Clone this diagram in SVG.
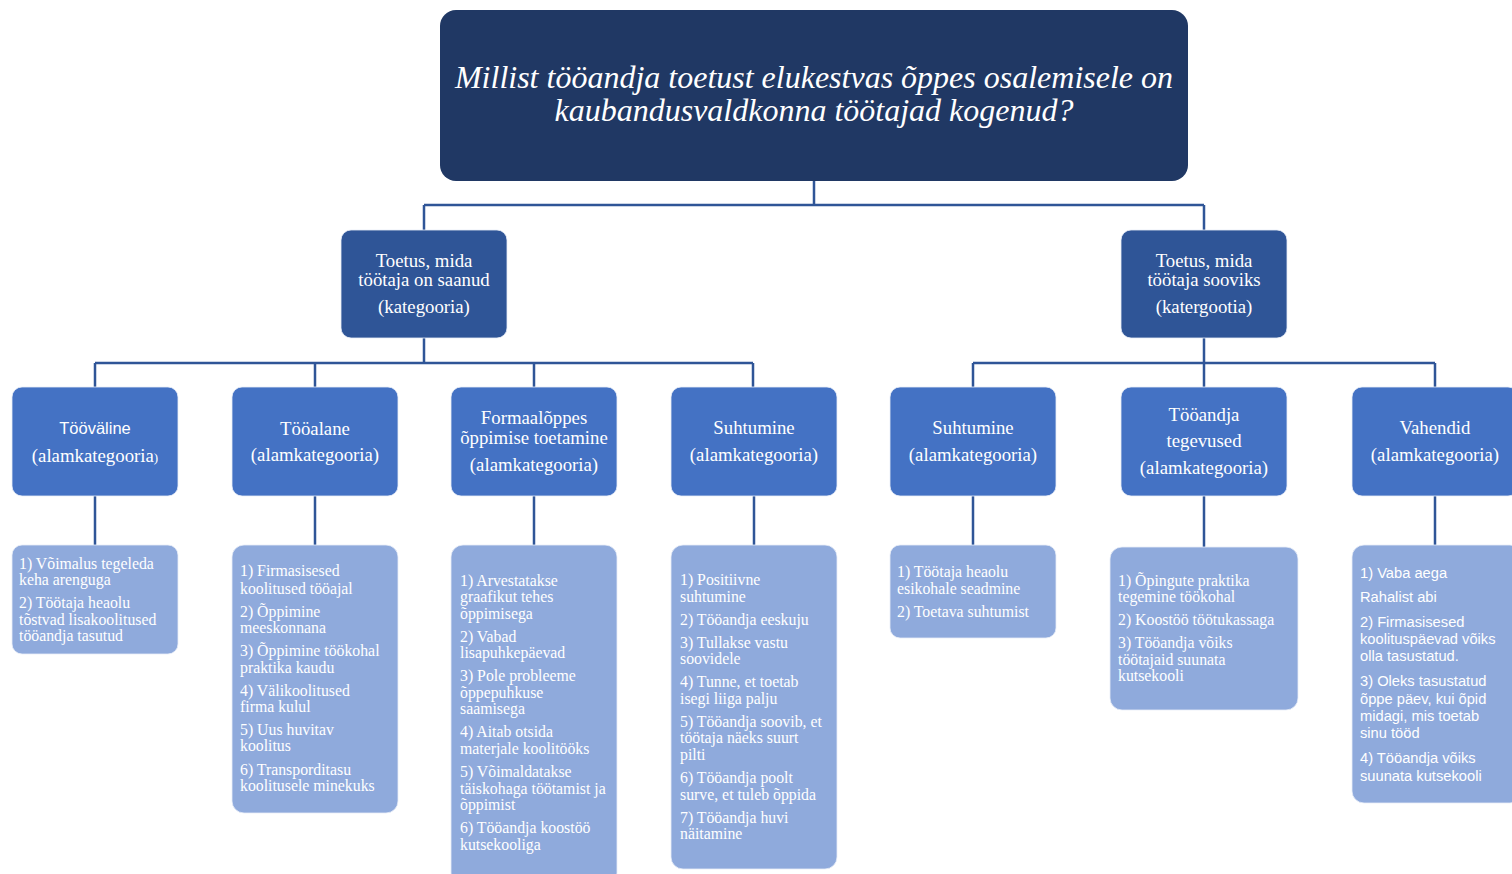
<svg xmlns="http://www.w3.org/2000/svg" width="1512" height="874" viewBox="0 0 1512 874">
<style>
.title{fill:#203864}
.cat{fill:#2f5597;stroke:#e8eef8;stroke-width:0.8}
.mid{fill:#4472c4;stroke:#e8eef8;stroke-width:0.8}
.leaf{fill:#8faadc;stroke:#e8eef8;stroke-width:0.8}
.conn{fill:none;stroke:#2f5597;stroke-width:2.5}
text{fill:#ffffff}
.tt{font-family:"Liberation Serif","Times New Roman",serif;font-style:italic;font-size:32px}
.ct{font-family:"Liberation Serif","Times New Roman",serif;font-size:18.8px}
.mt{font-family:"Liberation Serif","Times New Roman",serif;font-size:18.8px}
.ms{font-family:"Liberation Sans",Arial,sans-serif;font-size:16.5px}
.lt{font-family:"Liberation Serif","Times New Roman",serif;font-size:15.8px}
.ls{font-family:"Liberation Sans",Arial,sans-serif;font-size:14.7px}
</style>
<rect width="1512" height="874" fill="#ffffff"/>
<g id="connectors">
<path class="conn" d="M814 181V205M424 205H1204M424 205V230M1204 205V230"/>
<path class="conn" d="M424 338V363M95 363H753M95 363V387M315 363V387M534 363V387M753 363V387"/>
<path class="conn" d="M1204 338V363M973 363H1435M973 363V387M1204 363V387M1435 363V387"/>
<path class="conn" d="M95 496V545M315 496V545M534 496V545M754 496V545M973 496V545M1204 496V547M1435 496V545"/>
</g>
<g id="title">
<rect class="title" x="440" y="10" width="748" height="171" rx="16"/>
<text class="tt" x="814" y="88" text-anchor="middle">Millist tööandja toetust elukestvas õppes osalemisele on</text>
<text class="tt" x="814" y="121" text-anchor="middle">kaubandusvaldkonna töötajad kogenud?</text>
</g>
<g id="cat1">
<rect class="cat" x="341" y="230" width="166" height="108" rx="10"/>
<text class="ct" x="424" y="267" text-anchor="middle">Toetus, mida</text>
<text class="ct" x="424" y="286" text-anchor="middle">töötaja on saanud</text>
<text class="ct" x="424" y="313" text-anchor="middle">(kategooria)</text>
</g>
<g id="cat2">
<rect class="cat" x="1121" y="230" width="166" height="108" rx="10"/>
<text class="ct" x="1204" y="267" text-anchor="middle">Toetus, mida</text>
<text class="ct" x="1204" y="286" text-anchor="middle">töötaja sooviks</text>
<text class="ct" x="1204" y="313" text-anchor="middle">(katergootia)</text>
</g>
<g id="mid1">
<rect class="mid" x="12" y="387" width="166" height="109" rx="10"/>
<text class="ms" x="95" y="434" text-anchor="middle">Tööväline</text>
<text class="mt" x="95" y="462" text-anchor="middle">(alamkategooria<tspan font-size="13">)</tspan></text>
</g>
<g id="mid2">
<rect class="mid" x="232" y="387" width="166" height="109" rx="10"/>
<text class="mt" x="315" y="435" text-anchor="middle">Tööalane</text>
<text class="mt" x="315" y="461" text-anchor="middle">(alamkategooria)</text>
</g>
<g id="mid3">
<rect class="mid" x="451" y="387" width="166" height="109" rx="10"/>
<text class="mt" x="534" y="424" text-anchor="middle">Formaalõppes</text>
<text class="mt" x="534" y="444" text-anchor="middle">õppimise toetamine</text>
<text class="mt" x="534" y="471" text-anchor="middle">(alamkategooria)</text>
</g>
<g id="mid4">
<rect class="mid" x="671" y="387" width="166" height="109" rx="10"/>
<text class="mt" x="754" y="434" text-anchor="middle">Suhtumine</text>
<text class="mt" x="754" y="461" text-anchor="middle">(alamkategooria)</text>
</g>
<g id="mid5">
<rect class="mid" x="890" y="387" width="166" height="109" rx="10"/>
<text class="mt" x="973" y="434" text-anchor="middle">Suhtumine</text>
<text class="mt" x="973" y="461" text-anchor="middle">(alamkategooria)</text>
</g>
<g id="mid6">
<rect class="mid" x="1121" y="387" width="166" height="109" rx="10"/>
<text class="mt" x="1204" y="421" text-anchor="middle">Tööandja</text>
<text class="mt" x="1204" y="447" text-anchor="middle">tegevused</text>
<text class="mt" x="1204" y="474" text-anchor="middle">(alamkategooria)</text>
</g>
<g id="mid7">
<rect class="mid" x="1352" y="387" width="166" height="109" rx="10"/>
<text class="mt" x="1435" y="434" text-anchor="middle">Vahendid</text>
<text class="mt" x="1435" y="461" text-anchor="middle">(alamkategooria)</text>
</g>
<g id="leaf1">
<rect class="leaf" x="12" y="545" width="166" height="109" rx="10"/>
<text class="lt" x="19" y="569">1) Võimalus tegeleda</text>
<text class="lt" x="19" y="585">keha arenguga</text>
<text class="lt" x="19" y="608">2) Töötaja heaolu</text>
<text class="lt" x="19" y="625">tõstvad lisakoolitused</text>
<text class="lt" x="19" y="641">tööandja tasutud</text>
</g>
<g id="leaf2">
<rect class="leaf" x="232" y="545" width="166" height="268" rx="12"/>
<text class="lt" x="240" y="576">1) Firmasisesed</text>
<text class="lt" x="240" y="594">koolitused tööajal</text>
<text class="lt" x="240" y="617">2) Õppimine</text>
<text class="lt" x="240" y="633">meeskonnana</text>
<text class="lt" x="240" y="656">3) Õppimine töökohal</text>
<text class="lt" x="240" y="673">praktika kaudu</text>
<text class="lt" x="240" y="696">4) Välikoolitused</text>
<text class="lt" x="240" y="712">firma kulul</text>
<text class="lt" x="240" y="735">5) Uus huvitav</text>
<text class="lt" x="240" y="751">koolitus</text>
<text class="lt" x="240" y="775">6) Transporditasu</text>
<text class="lt" x="240" y="791">koolitusele minekuks</text>
</g>
<g id="leaf3">
<rect class="leaf" x="451" y="545" width="166" height="340" rx="12"/>
<text class="lt" x="460" y="586">1) Arvestatakse</text>
<text class="lt" x="460" y="602">graafikut tehes</text>
<text class="lt" x="460" y="619">õppimisega</text>
<text class="lt" x="460" y="642">2) Vabad</text>
<text class="lt" x="460" y="658">lisapuhkepäevad</text>
<text class="lt" x="460" y="681">3) Pole probleeme</text>
<text class="lt" x="460" y="698">õppepuhkuse</text>
<text class="lt" x="460" y="714">saamisega</text>
<text class="lt" x="460" y="737">4) Aitab otsida</text>
<text class="lt" x="460" y="754">materjale koolitööks</text>
<text class="lt" x="460" y="777">5) Võimaldatakse</text>
<text class="lt" x="460" y="794">täiskohaga töötamist ja</text>
<text class="lt" x="460" y="810">õppimist</text>
<text class="lt" x="460" y="833">6) Tööandja koostöö</text>
<text class="lt" x="460" y="850">kutsekooliga</text>
</g>
<g id="leaf4">
<rect class="leaf" x="671" y="545" width="166" height="324" rx="12"/>
<text class="lt" x="680" y="585">1) Positiivne</text>
<text class="lt" x="680" y="602">suhtumine</text>
<text class="lt" x="680" y="625">2) Tööandja eeskuju</text>
<text class="lt" x="680" y="648">3) Tullakse vastu</text>
<text class="lt" x="680" y="664">soovidele</text>
<text class="lt" x="680" y="687">4) Tunne, et toetab</text>
<text class="lt" x="680" y="704">isegi liiga palju</text>
<text class="lt" x="680" y="727">5) Tööandja soovib, et</text>
<text class="lt" x="680" y="743">töötaja näeks suurt</text>
<text class="lt" x="680" y="760">pilti</text>
<text class="lt" x="680" y="783">6) Tööandja poolt</text>
<text class="lt" x="680" y="800">surve, et tuleb õppida</text>
<text class="lt" x="680" y="823">7) Tööandja huvi</text>
<text class="lt" x="680" y="839">näitamine</text>
</g>
<g id="leaf5">
<rect class="leaf" x="890" y="545" width="166" height="93" rx="10"/>
<text class="lt" x="897" y="577">1) Töötaja heaolu</text>
<text class="lt" x="897" y="594">esikohale seadmine</text>
<text class="lt" x="897" y="617">2) Toetava suhtumist</text>
</g>
<g id="leaf6">
<rect class="leaf" x="1110" y="547" width="188" height="163" rx="12"/>
<text class="lt" x="1118" y="586">1) Õpingute praktika</text>
<text class="lt" x="1118" y="602">tegemine töökohal</text>
<text class="lt" x="1118" y="625">2) Koostöö töötukassaga</text>
<text class="lt" x="1118" y="648">3) Tööandja võiks</text>
<text class="lt" x="1118" y="665">töötajaid suunata</text>
<text class="lt" x="1118" y="681">kutsekooli</text>
</g>
<g id="leaf7">
<rect class="leaf" x="1352" y="545" width="170" height="258" rx="12"/>
<text class="ls" x="1360" y="578">1) Vaba aega</text>
<text class="ls" x="1360" y="602">Rahalist abi</text>
<text class="ls" x="1360" y="627">2) Firmasisesed</text>
<text class="ls" x="1360" y="644">koolituspäevad võiks</text>
<text class="ls" x="1360" y="661">olla tasustatud.</text>
<text class="ls" x="1360" y="686">3) Oleks tasustatud</text>
<text class="ls" x="1360" y="704">õppe päev, kui õpid</text>
<text class="ls" x="1360" y="721">midagi, mis toetab</text>
<text class="ls" x="1360" y="738">sinu tööd</text>
<text class="ls" x="1360" y="763">4) Tööandja võiks</text>
<text class="ls" x="1360" y="781">suunata kutsekooli</text>
</g>
</svg>
